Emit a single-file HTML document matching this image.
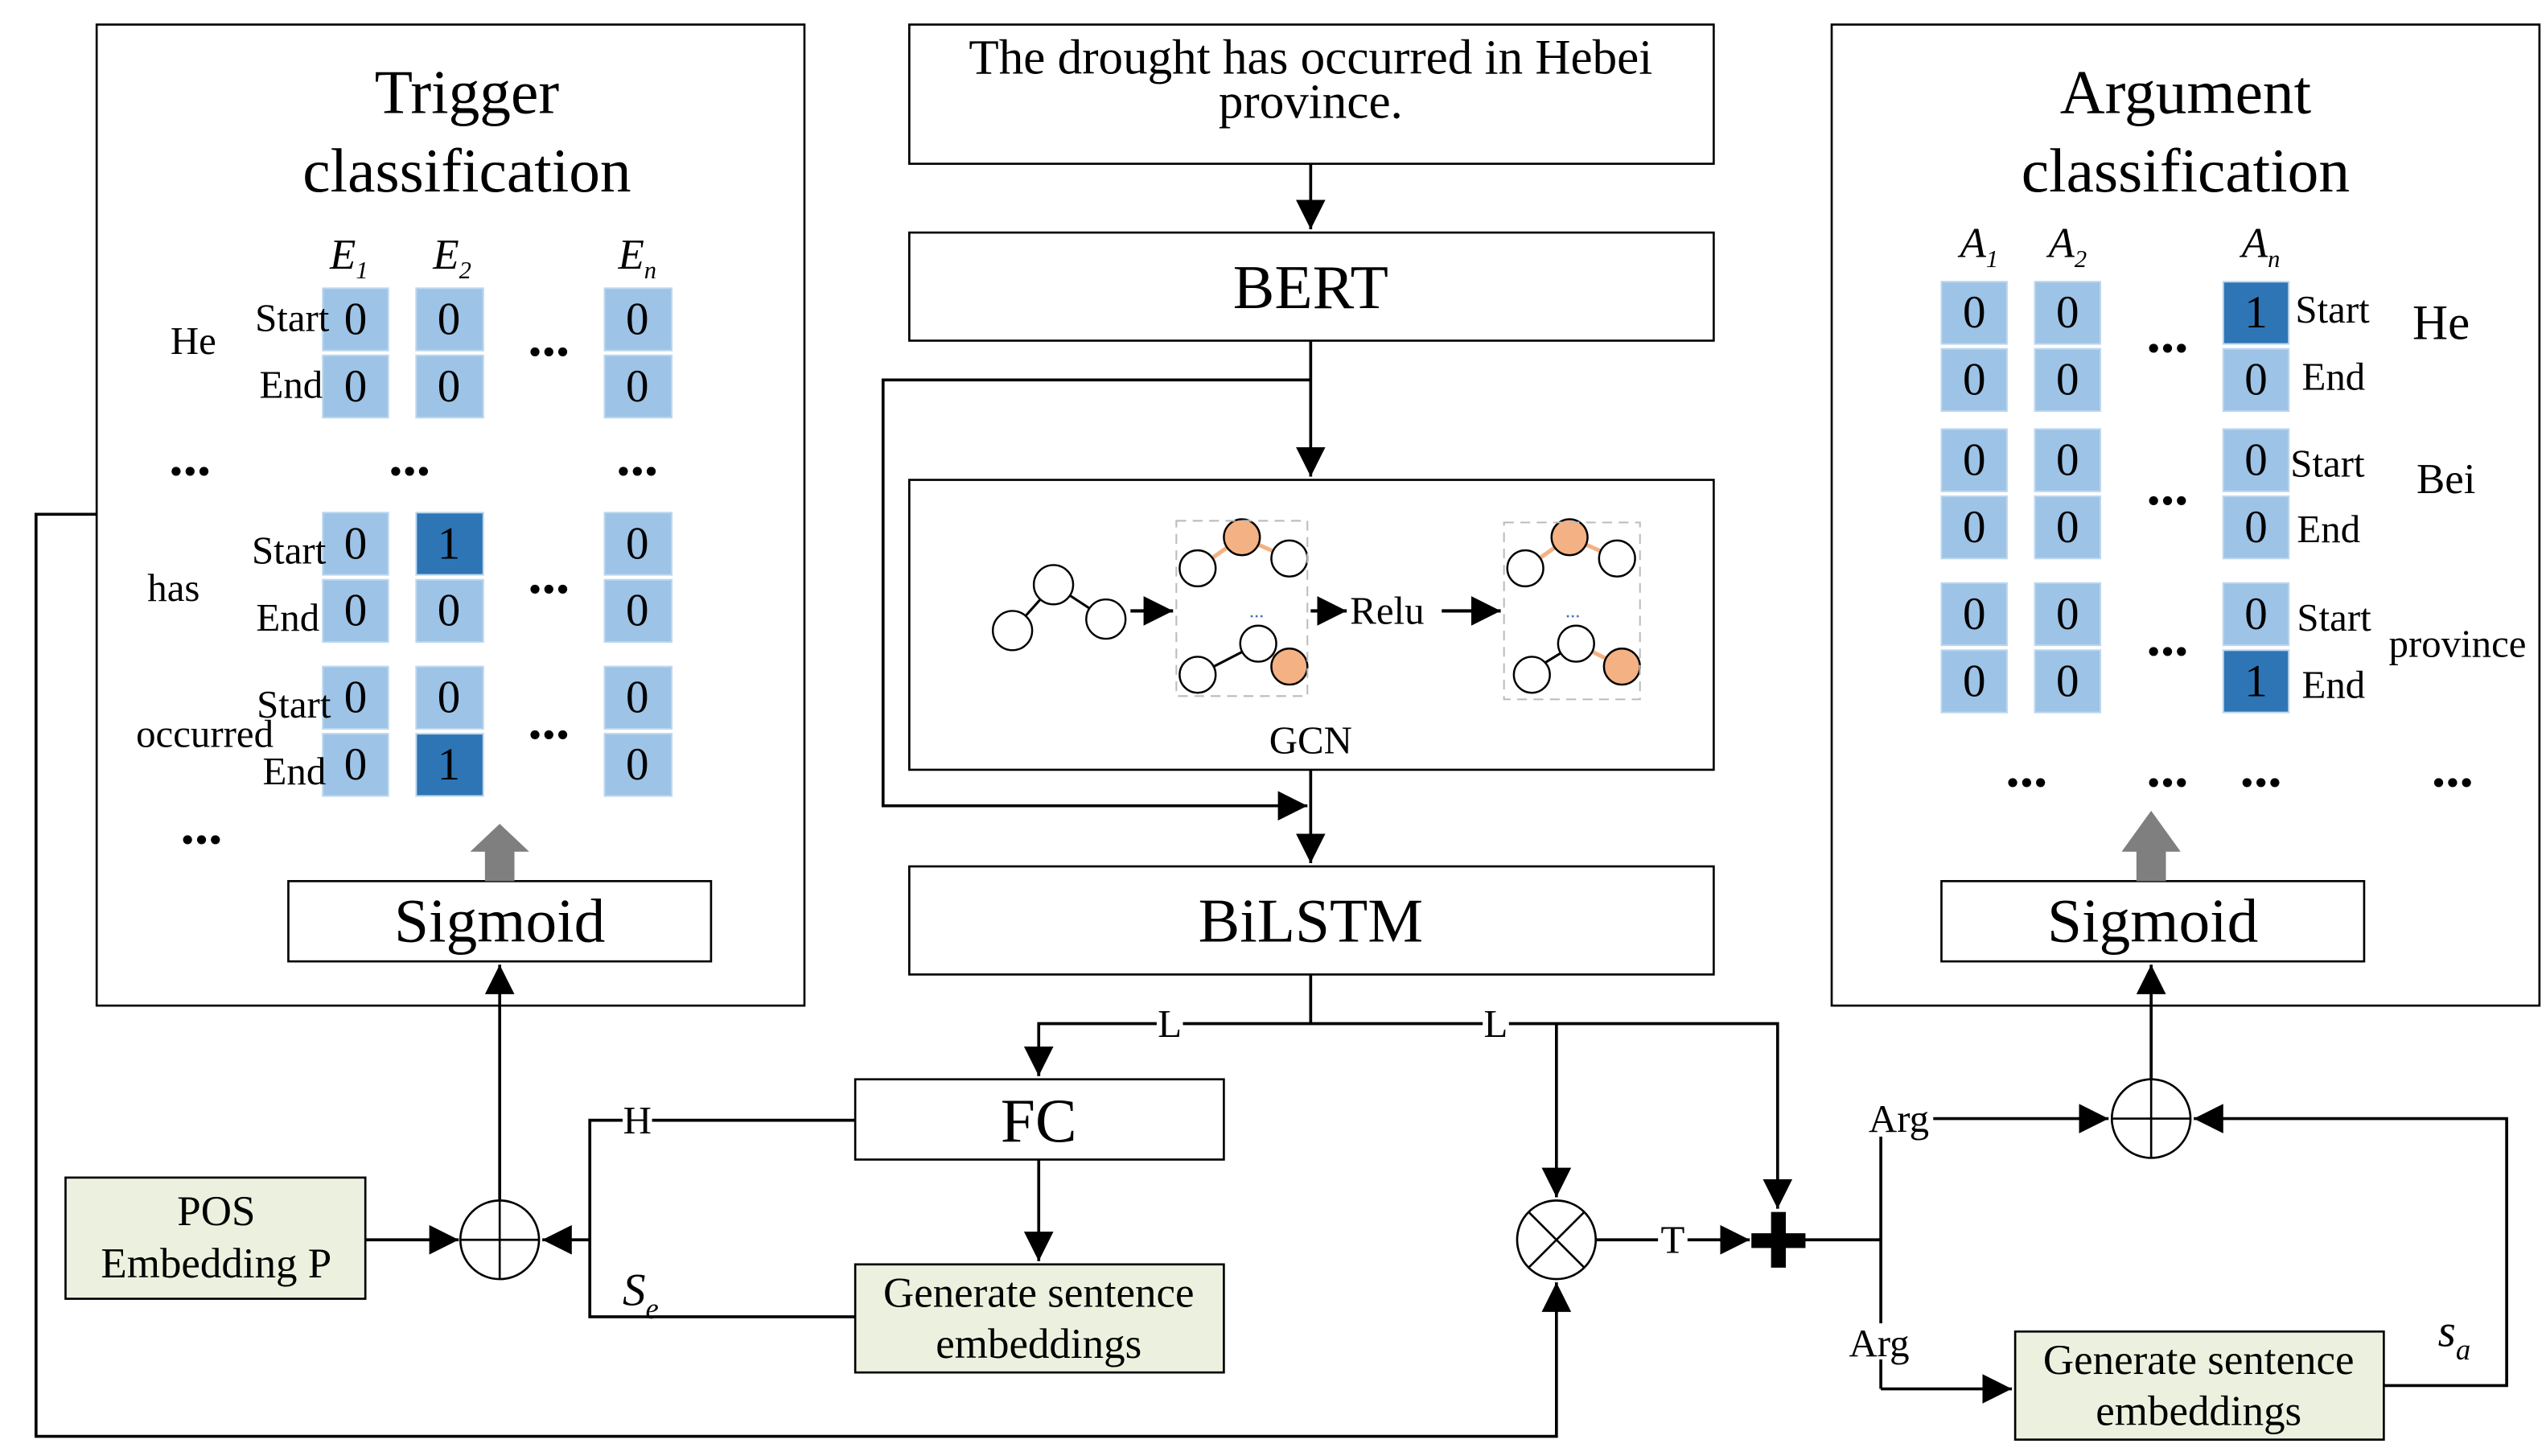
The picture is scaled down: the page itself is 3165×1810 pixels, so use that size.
<!DOCTYPE html>
<html><head><meta charset="utf-8"><style>html,body{margin:0;padding:0;background:#fff}svg{display:block}</style></head><body>
<svg width="3165" height="1810" viewBox="0 0 1554 889" preserveAspectRatio="none" xmlns="http://www.w3.org/2000/svg" font-family="Liberation Serif, serif">
<defs>
<marker id="a" markerWidth="10" markerHeight="10" refX="9" refY="5" orient="auto" markerUnits="userSpaceOnUse"><path d="M0,0 L18,5 L0,10 z" transform="scale(0.55,1)" fill="#000"/></marker>
<marker id="b" viewBox="0 0 10 10" markerWidth="18" markerHeight="18" refX="10" refY="5" orient="auto" markerUnits="userSpaceOnUse"><path d="M0,0 L10,5 L0,10 z" fill="#000"/></marker>
</defs>
<g fill="none" stroke="#000" stroke-width="1.3">
<rect x="59" y="15" width="432" height="599"/>
<rect x="1118" y="15" width="432" height="599"/>
<rect x="555" y="15" width="491" height="85"/>
<rect x="555" y="142" width="491" height="66"/>
<rect x="555" y="293" width="491" height="177"/>
<rect x="555" y="529" width="491" height="66"/>
<rect x="522" y="659" width="225" height="49"/>
<rect x="176" y="538" width="258" height="49"/>
<rect x="1185" y="538" width="258" height="49"/>
</g>
<g fill="#ebf1de" stroke="#000" stroke-width="1.3">
<rect x="40" y="719" width="183" height="74"/>
<rect x="522" y="772" width="225" height="66"/>
<rect x="1230" y="813" width="225" height="66"/>
</g>
<!-- connectors -->
<g fill="none" stroke="#000" stroke-width="1.8">
<line x1="800" y1="100" x2="800" y2="140" marker-end="url(#b)"/>
<line x1="800" y1="208" x2="800" y2="291" marker-end="url(#b)"/>
<polyline points="800,232 539,232 539,492 798,492" marker-end="url(#b)"/>
<line x1="800" y1="470" x2="800" y2="527" marker-end="url(#b)"/>
<polyline points="800,595 800,625"/>
<polyline points="634,657 634,625 1085,625 1085,738" marker-end="url(#b)"/>
<line x1="634" y1="640" x2="634" y2="657" marker-end="url(#b)"/>
<line x1="950" y1="625" x2="950" y2="731" marker-end="url(#b)"/>
<line x1="634" y1="708" x2="634" y2="770" marker-end="url(#b)"/>
<polyline points="522,684 360,684 360,804 522,804"/>
<line x1="360" y1="757" x2="331" y2="757" marker-end="url(#b)"/>
<line x1="223" y1="757" x2="280" y2="757" marker-end="url(#b)"/>
<line x1="305" y1="733" x2="305" y2="589" marker-end="url(#b)"/>
<polyline points="59,314 22,314 22,877 950,877 950,783" marker-end="url(#b)"/>
<line x1="974" y1="757" x2="1068" y2="757" marker-end="url(#b)"/>
<polyline points="1100,757 1148,757"/>
<line x1="1148" y1="683" x2="1148" y2="848"/>
<line x1="1148" y1="683" x2="1287" y2="683" marker-end="url(#b)"/>
<line x1="1148" y1="848" x2="1228" y2="848" marker-end="url(#b)"/>
<polyline points="1455,846 1530,846 1530,683 1339,683" marker-end="url(#b)"/>
<line x1="1313" y1="659" x2="1313" y2="589" marker-end="url(#b)"/>
</g>
<g fill="#fff" stroke="#000" stroke-width="1.3">
<circle cx="305" cy="757" r="24"/><circle cx="950" cy="757" r="24"/><circle cx="1313" cy="683" r="24"/>
</g>
<g stroke="#000" stroke-width="1.3">
<line x1="281" y1="757" x2="329" y2="757"/><line x1="305" y1="733" x2="305" y2="781"/>
<line x1="1289" y1="683" x2="1337" y2="683"/><line x1="1313" y1="659" x2="1313" y2="707"/>
<line x1="933" y1="740" x2="967" y2="774"/><line x1="967" y1="740" x2="933" y2="774"/>
</g>
<rect x="1069" y="753" width="33" height="9" fill="#000"/><rect x="1081" y="740" width="9" height="34" fill="#000"/>
<!-- gray arrows -->
<path d="M296,538 V520 H287 L305,503 L323,520 H314 V538 z" fill="#7f7f7f"/>
<path d="M1304,538 V520 H1295 L1313,495 L1331,520 H1322 V538 z" fill="#7f7f7f"/>
<!-- labels with white bg -->
<g font-size="24" text-anchor="middle">
<rect x="706" y="614" width="16" height="22" fill="#fff"/><text x="714" y="633">L</text>
<rect x="905" y="614" width="16" height="22" fill="#fff"/><text x="913" y="633">L</text>
<rect x="380" y="673" width="18" height="22" fill="#fff"/><text x="389" y="692">H</text>
<rect x="1012" y="746" width="18" height="22" fill="#fff"/><text x="1021" y="765">T</text>
<rect x="1138" y="672" width="42" height="22" fill="#fff"/><text x="1159" y="691">Arg</text>
<rect x="1126" y="808" width="42" height="22" fill="#fff"/><text x="1147" y="828">Arg</text>
<text x="391" y="797" font-style="italic" font-size="28">S<tspan font-size="18" dy="8">e</tspan></text>
<text x="1498" y="822" font-style="italic" font-size="28">s<tspan font-size="18" dy="8">a</tspan></text>
</g>
<!-- box texts -->
<g text-anchor="middle" fill="#000">
<text x="800" y="45" font-size="30">The drought has occurred in Hebei</text>
<text x="800" y="72" font-size="30">province.</text>
<text x="800" y="188" font-size="38">BERT</text>
<text x="800" y="575" font-size="38">BiLSTM</text>
<text x="634" y="697" font-size="38">FC</text>
<text x="634" y="798" font-size="26">Generate sentence</text>
<text x="634" y="829" font-size="26">embeddings</text>
<text x="1342" y="839" font-size="26">Generate sentence</text>
<text x="1342" y="870" font-size="26">embeddings</text>
<text x="132" y="748" font-size="26">POS</text>
<text x="132" y="780" font-size="26">Embedding P</text>
<text x="305" y="575" font-size="38">Sigmoid</text>
<text x="1314" y="575" font-size="38">Sigmoid</text>
<text x="285" y="69" font-size="38">Trigger</text>
<text x="285" y="117" font-size="38">classification</text>
<text x="1334" y="69" font-size="38">Argument</text>
<text x="1334" y="117" font-size="38">classification</text>
<text x="800" y="460" font-size="24">GCN</text>
</g>
<!-- GCN -->
<g fill="none" stroke="#000" stroke-width="1.5">
<line x1="643" y1="357" x2="618" y2="385"/><line x1="643" y1="357" x2="675" y2="378"/>
<line x1="731" y1="412" x2="768" y2="393"/><line x1="931" y1="412" x2="962" y2="393"/>
</g>
<g stroke="#f4b183" stroke-width="2.5">
<line x1="758" y1="328" x2="731" y2="347"/><line x1="758" y1="328" x2="787" y2="341"/>
<line x1="768" y1="393" x2="787" y2="407"/>
<line x1="958" y1="328" x2="931" y2="347"/><line x1="958" y1="328" x2="987" y2="341"/>
<line x1="962" y1="393" x2="990" y2="407"/>
</g>
<g stroke="#000" stroke-width="1.2" fill="#fff">
<circle cx="643" cy="357" r="12"/><circle cx="618" cy="385" r="12"/><circle cx="675" cy="378" r="12"/>
<circle cx="731" cy="347" r="11"/><circle cx="787" cy="341" r="11"/><circle cx="768" cy="393" r="11"/><circle cx="731" cy="412" r="11"/>
<circle cx="931" cy="347" r="11"/><circle cx="987" cy="341" r="11"/><circle cx="962" cy="393" r="11"/><circle cx="935" cy="412" r="11"/>
<circle cx="758" cy="328" r="11" fill="#f4b183"/><circle cx="787" cy="407" r="11" fill="#f4b183"/>
<circle cx="958" cy="328" r="11" fill="#f4b183"/><circle cx="990" cy="407" r="11" fill="#f4b183"/>
</g>
<g fill="none" stroke="#bbb" stroke-dasharray="6,4"><rect x="718" y="318" width="80" height="107"/><rect x="918" y="319" width="83" height="108"/></g>
<g fill="#4472c4" font-size="12" text-anchor="middle"><text x="767" y="377">...</text><text x="960" y="377">...</text></g>
<g stroke="#000" stroke-width="2" fill="none">
<line x1="690" y1="373" x2="716" y2="373" marker-end="url(#b)"/>
<line x1="800" y1="373" x2="822" y2="373" marker-end="url(#b)"/>
<line x1="880" y1="373" x2="916" y2="373" marker-end="url(#b)"/>
</g>
<text x="824" y="381" font-size="24">Relu</text>
<!-- cells -->
<g fill="#9dc3e6" stroke="#bdd7ee" stroke-width="1">
<rect x="197" y="176" width="40" height="38"/><rect x="254" y="176" width="41" height="38"/><rect x="369" y="176" width="41" height="38"/>
<rect x="197" y="217" width="40" height="38"/><rect x="254" y="217" width="41" height="38"/><rect x="369" y="217" width="41" height="38"/>
<rect x="197" y="313" width="40" height="38"/><rect x="254" y="313" width="41" height="38" fill="#2e75b6"/><rect x="369" y="313" width="41" height="38"/>
<rect x="197" y="354" width="40" height="38"/><rect x="254" y="354" width="41" height="38"/><rect x="369" y="354" width="41" height="38"/>
<rect x="197" y="407" width="40" height="38"/><rect x="254" y="407" width="41" height="38"/><rect x="369" y="407" width="41" height="38"/>
<rect x="197" y="448" width="40" height="38"/><rect x="254" y="448" width="41" height="38" fill="#2e75b6"/><rect x="369" y="448" width="41" height="38"/>
<rect x="1185" y="172" width="40" height="38"/><rect x="1242" y="172" width="40" height="38"/><rect x="1357" y="172" width="40" height="38" fill="#2e75b6"/>
<rect x="1185" y="213" width="40" height="38"/><rect x="1242" y="213" width="40" height="38"/><rect x="1357" y="213" width="40" height="38"/>
<rect x="1185" y="262" width="40" height="38"/><rect x="1242" y="262" width="40" height="38"/><rect x="1357" y="262" width="40" height="38"/>
<rect x="1185" y="303" width="40" height="38"/><rect x="1242" y="303" width="40" height="38"/><rect x="1357" y="303" width="40" height="38"/>
<rect x="1185" y="356" width="40" height="38"/><rect x="1242" y="356" width="40" height="38"/><rect x="1357" y="356" width="40" height="38"/>
<rect x="1185" y="397" width="40" height="38"/><rect x="1242" y="397" width="40" height="38"/><rect x="1357" y="397" width="40" height="38" fill="#2e75b6"/>
</g>
<g font-size="28" text-anchor="middle">
<text x="217" y="204">0</text><text x="274" y="204">0</text><text x="389" y="204">0</text>
<text x="217" y="245">0</text><text x="274" y="245">0</text><text x="389" y="245">0</text>
<text x="217" y="341">0</text><text x="274" y="341">1</text><text x="389" y="341">0</text>
<text x="217" y="382">0</text><text x="274" y="382">0</text><text x="389" y="382">0</text>
<text x="217" y="435">0</text><text x="274" y="435">0</text><text x="389" y="435">0</text>
<text x="217" y="476">0</text><text x="274" y="476">1</text><text x="389" y="476">0</text>
<text x="1205" y="200">0</text><text x="1262" y="200">0</text><text x="1377" y="200">1</text>
<text x="1205" y="241">0</text><text x="1262" y="241">0</text><text x="1377" y="241">0</text>
<text x="1205" y="290">0</text><text x="1262" y="290">0</text><text x="1377" y="290">0</text>
<text x="1205" y="331">0</text><text x="1262" y="331">0</text><text x="1377" y="331">0</text>
<text x="1205" y="384">0</text><text x="1262" y="384">0</text><text x="1377" y="384">0</text>
<text x="1205" y="425">0</text><text x="1262" y="425">0</text><text x="1377" y="425">1</text>
</g>
<g font-size="26" font-style="italic" text-anchor="middle">
<text x="213" y="164">E<tspan font-size="15" dy="6">1</tspan></text>
<text x="276" y="164">E<tspan font-size="15" dy="6">2</tspan></text>
<text x="389" y="164">E<tspan font-size="15" dy="6">n</tspan></text>
<text x="1208" y="157">A<tspan font-size="15" dy="6">1</tspan></text>
<text x="1262" y="157">A<tspan font-size="15" dy="6">2</tspan></text>
<text x="1380" y="157">A<tspan font-size="15" dy="6">n</tspan></text>
</g>
<g font-size="24">
<text x="201" y="202" text-anchor="end">Start</text><text x="197" y="243" text-anchor="end">End</text>
<text x="199" y="344" text-anchor="end">Start</text><text x="195" y="385" text-anchor="end">End</text>
<text x="202" y="438" text-anchor="end">Start</text><text x="199" y="479" text-anchor="end">End</text>
<text x="118" y="216" text-anchor="middle">He</text>
<text x="106" y="367" text-anchor="middle">has</text>
<text x="125" y="456" text-anchor="middle">occurred</text>
<text x="1401" y="197">Start</text><text x="1405" y="238">End</text>
<text x="1398" y="291">Start</text><text x="1402" y="331">End</text>
<text x="1402" y="385">Start</text><text x="1405" y="426">End</text>
<text x="1490" y="207" text-anchor="middle" font-size="30">He</text>
<text x="1493" y="301" text-anchor="middle" font-size="26">Bei</text>
<text x="1500" y="401" text-anchor="middle">province</text>
</g>
<g font-size="34" font-weight="bold" text-anchor="middle">
<text x="116" y="290">...</text><text x="250" y="290">...</text><text x="389" y="290">...</text>
<text x="335" y="217">...</text><text x="335" y="362">...</text><text x="335" y="451">...</text>
<text x="123" y="515">...</text>
<text x="1323" y="215">...</text><text x="1323" y="308">...</text><text x="1323" y="400">...</text>
<text x="1237" y="480">...</text><text x="1323" y="480">...</text><text x="1380" y="480">...</text><text x="1497" y="480">...</text>
</g>
</svg>
</body></html>
